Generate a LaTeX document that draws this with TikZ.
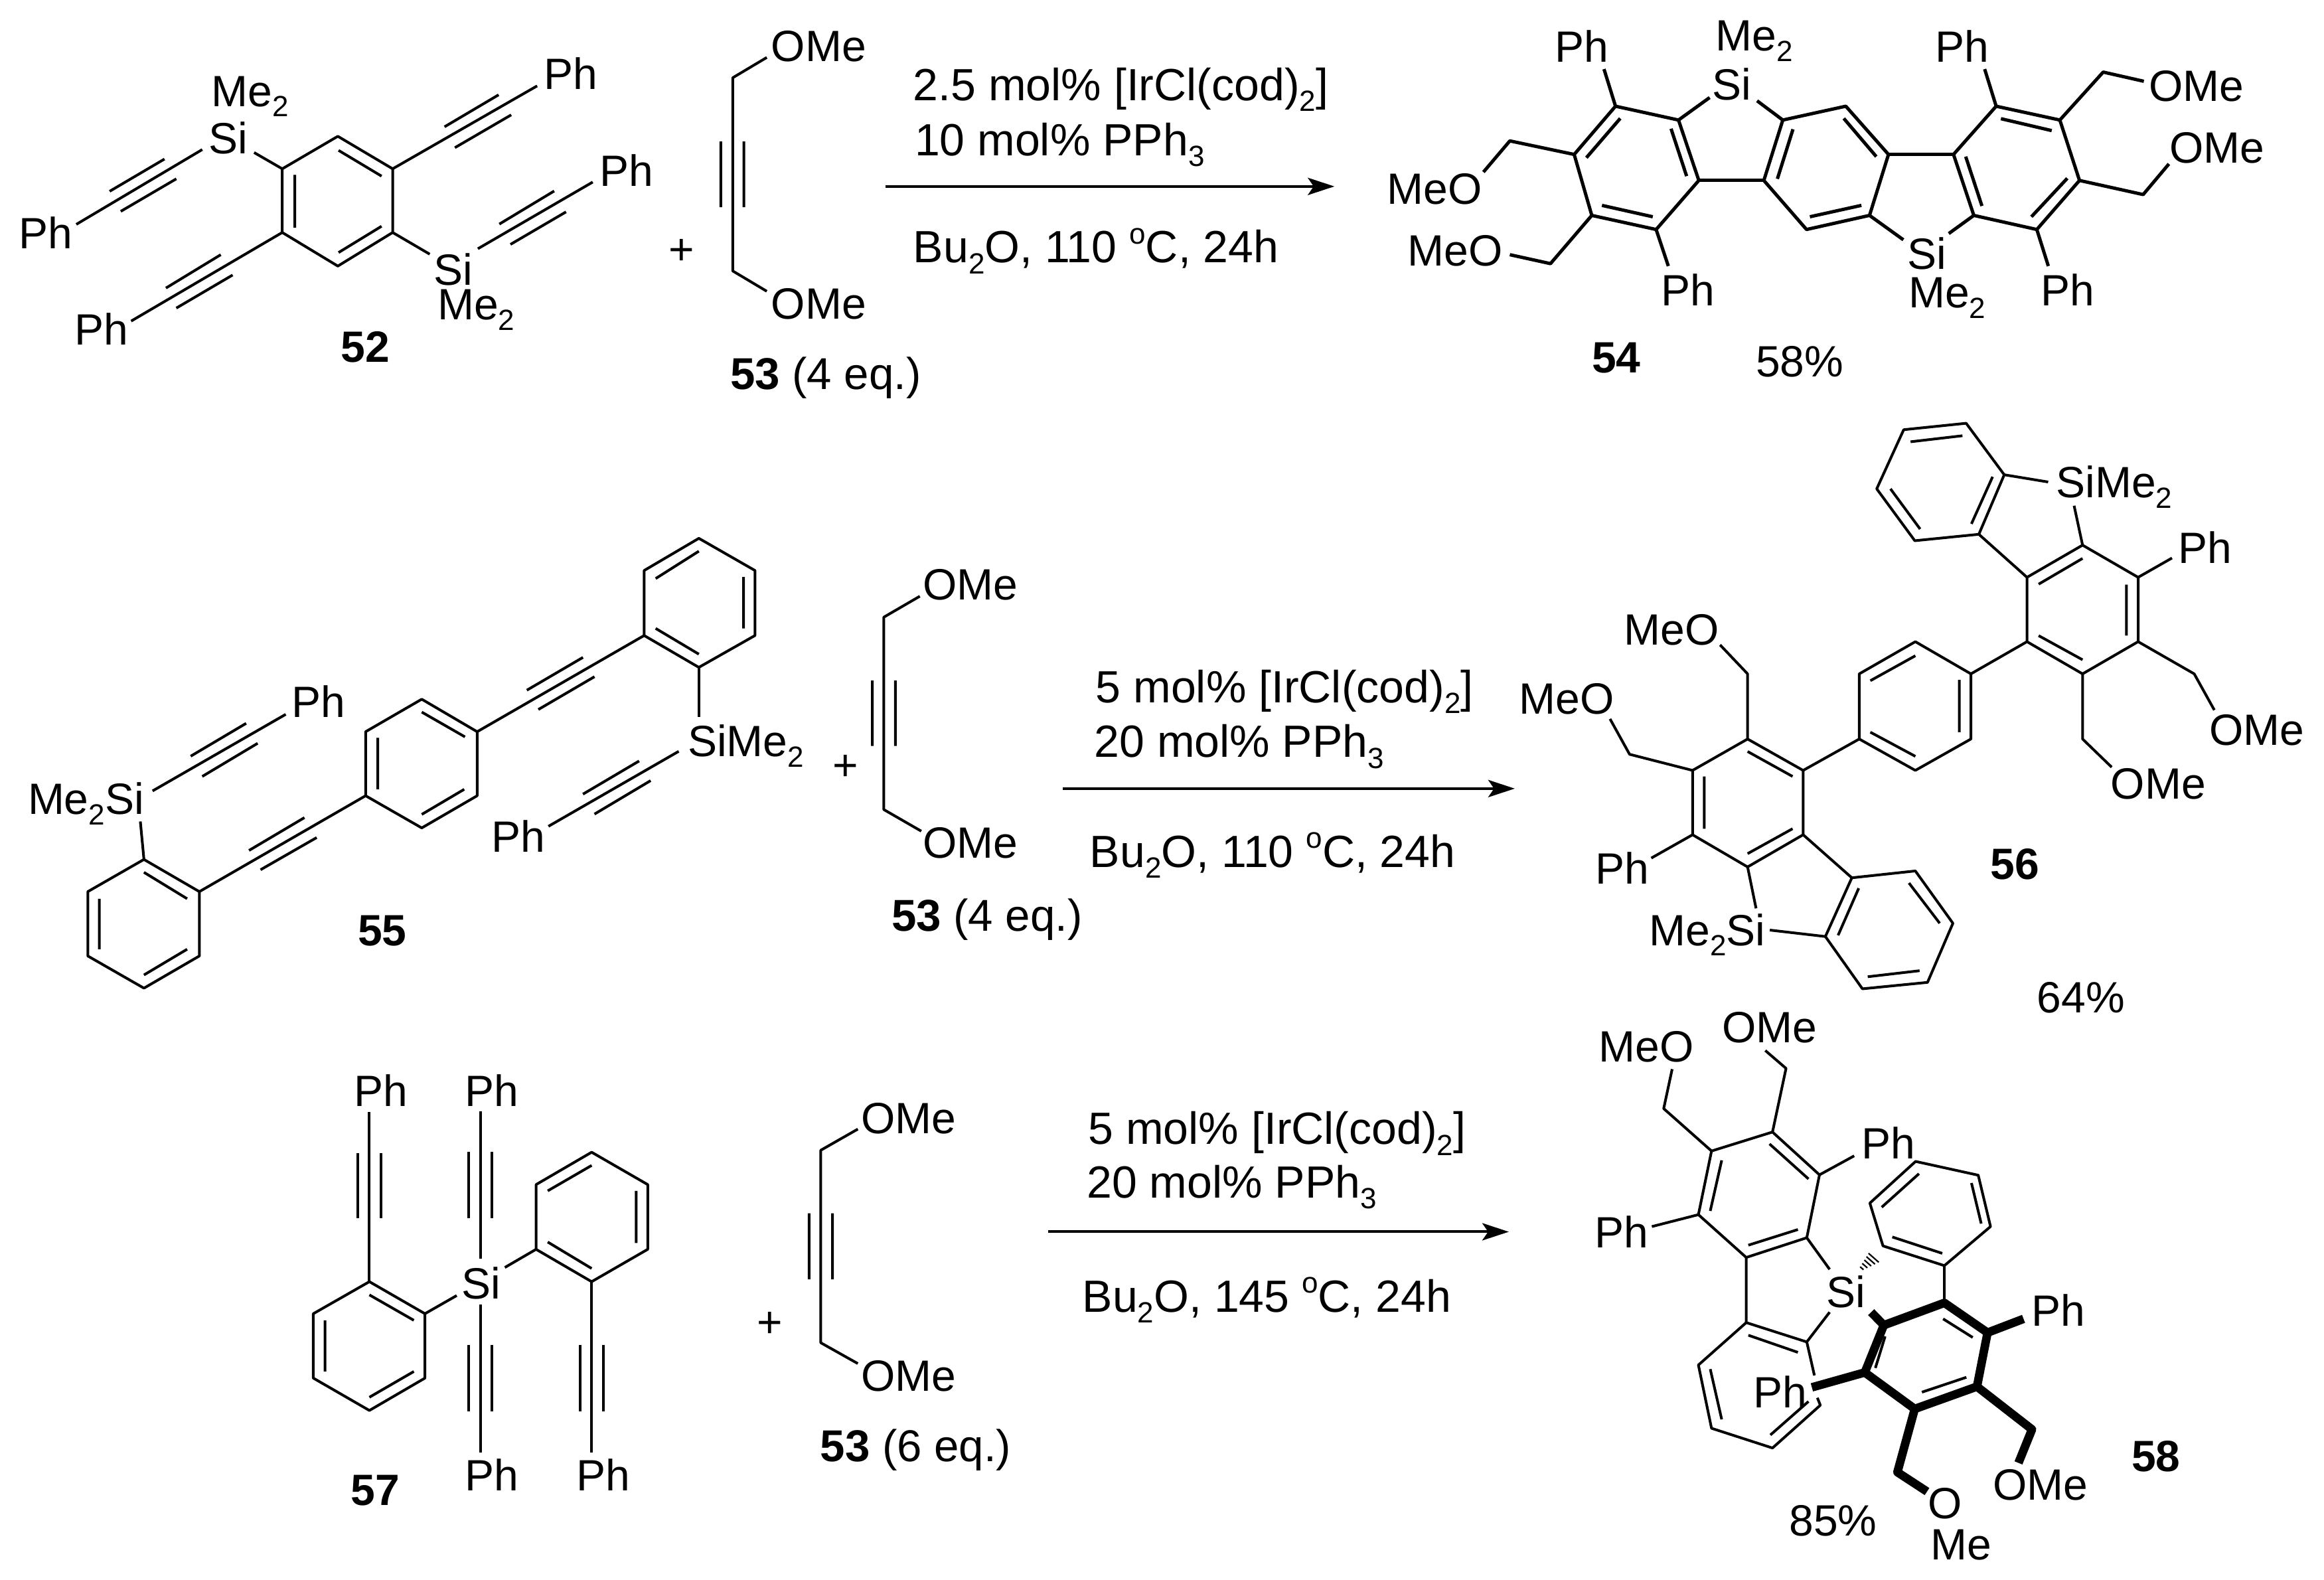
\documentclass[tikz,border=0pt]{standalone}
\usepackage{fontspec}
\usetikzlibrary{arrows.meta}
\setmainfont{Liberation Sans}
\newcommand{\chemsub}[1]{\smash{\raisebox{-.24em}{\fontsize{11pt}{12pt}\selectfont #1}}}
\newcommand{\chemsup}[1]{\raisebox{.42em}{\fontsize{11pt}{12pt}\selectfont #1}}
\tikzset{
 zA/.style={x=.27902pt,y=-.10204pt},
 zB/.style={shift={(475pt,0pt)},x=.25510pt,y=-.10204pt},
 zC/.style={shift={(0pt,-190pt)},x=.27105pt,y=-.12117pt},
 zD/.style={shift={(562.5pt,-150pt)},x=.19930pt,y=-.15147pt},
 zE/.style={shift={(87.5pt,-390pt)},x=.19930pt,y=-.12436pt},
 zF/.style={shift={(587.5pt,-375pt)},x=.15944pt,y=-.14015pt},
 zG/.style={x=.5582pt,y=-.5582pt},
 bond/.style={draw=black,line width=1pt,line join=round},
 bondb/.style={draw=black,line width=1.25pt,line join=round},
 boldbond/.style={draw=black,line width=3.2pt,line join=round},
 hash/.style={draw=black,line width=.55pt},
 rxn/.style={draw=black,line width=1pt,-{Stealth[length=10pt,width=6.5pt,inset=2.2pt]}},
 lab/.style={inner sep=0pt,font=\fontsize{16.5pt}{19pt}\selectfont},
 eqlab/.style={inner sep=0pt,anchor=base west,font=\fontsize{16.8pt}{19pt}\selectfont},
 bnum/.style={lab,font=\fontsize{16.5pt}{19pt}\selectfont\bfseries},
 reag/.style={inner sep=0pt,anchor=base west,font=\fontsize{17pt}{20pt}\selectfont},
}
\begin{document}
\begin{tikzpicture}
\useasboundingbox (0pt,0pt) rectangle (875.25pt,-594.75pt);
\fill[white] (0pt,0pt) rectangle (875.25pt,-594.75pt);

% ---------- row 1, left
\begin{scope}[zA]
\draw[bond] (456,503)--(530,623)--(530,858)--(456,982)--(381,858)--(381,623)--cycle;
\draw[bond] (457,555)--(515,650) (398,645)--(398,840) (515,835)--(457,932);
\draw[bond] (381,623)--(343,563) (530,858)--(580,938);
\draw[bond] (273,552)--(103,828) (222,587)--(148,706) (238,660)--(163,780);
\draw[bond] (530,623)--(725,317) (673,350)--(600,468) (690,424)--(614,545);
\draw[bond] (645,918)--(800,672) (748,705)--(674,827) (764,782)--(689,902);
\draw[bond] (381,858)--(177,1185) (298,940)--(224,1063) (314,1015)--(238,1137);
\node[lab] (si52a) at (308,510) {Si};
\node[lab] (si52b) at (612,995) {Si};
\node[lab,anchor=base west] (me52a) at (285,392) {Me\chemsub{2}};
\node[lab,anchor=base west] (me52b) at (590,1180) {Me\chemsub{2}};
\node[lab] (ph52a) at (62,860) {Ph};
\node[lab] (ph52b) at (770,270) {Ph};
\node[lab] (ph52c) at (846,628) {Ph};
\node[lab] (ph52d) at (137,1215) {Ph};
\node[bnum] (n52) at (493,1280) {52};
\node[lab] (plus1) at (920,930) {+};
\draw[bond] (1035,212)--(989,287)--(989,1000)--(1035,1075) (973,522)--(973,765) (1004,522)--(1004,765);
\node[lab] (ome53a) at (1105,172) {OMe};
\node[lab] (ome53b) at (1105,1122) {OMe};
\node[eqlab] (n53a) at (985,1438) {\textbf{53} (4 eq.)};
\node[reag] (r1a) at (1232,370) {2.5 mol\% [IrCl(cod)\chemsub{2}]};
\node[reag] (r1b) at (1234,574) {10 mol\% PPh\chemsub{3}};
\node[reag] (r1c) at (1232,970) {Bu\chemsub{2}O, 110 \chemsup{o}C, 24h};
\coordinate (arr1s) at (1195,688);
\end{scope}

% ---------- row 1, right
\begin{scope}[zB]
\coordinate (arr1e) at (108,688);
\draw[bondb] (523,392)--(616,443)--(646,666)--(583,847)--(488,795)--(462,570)--cycle;
\draw[bondb] (530,437)--(480,582) (605,475)--(628,650) (503,758)--(578,800);
\draw[bondb] (770,443)--(863,392)--(926,570)--(898,795)--(805,847)--(742,666)--cycle;
\draw[bondb] (785,477)--(762,660) (860,437)--(908,578) (886,758)--(810,800);
\draw[bondb] (1085,392)--(1179,443)--(1208,666)--(1145,847)--(1052,795)--(1022,570)--cycle;
\draw[bondb] (1092,438)--(1167,482) (1190,658)--(1137,800) (1064,760)--(1040,578);
\draw[bondb] (646,666)--(742,666) (926,570)--(1022,570);
\draw[bondb] (616,443)--(662,360) (770,443)--(732,372) (898,795)--(948,885) (1052,795)--(1015,862);
\draw[bondb] (523,392)--(506,255) (1085,392)--(1068,255) (583,847)--(601,982) (1145,847)--(1162,982);
\draw[bondb] (462,570)--(367,520)--(328,635) (488,795)--(427,973)--(367,940);
\draw[bondb] (1179,443)--(1243,266)--(1303,300) (1208,666)--(1302,718)--(1340,605);
\node[lab] (si54a) at (695,310) {Si};
\node[lab] (si54b) at (983,935) {Si};
\node[lab,anchor=base west] (me54a) at (670,188) {Me\chemsub{2}};
\node[lab,anchor=base west] (me54b) at (955,1135) {Me\chemsub{2}};
\node[lab] (ph54a) at (473,170) {Ph};
\node[lab] (ph54b) at (1035,170) {Ph};
\node[lab] (ph54c) at (630,1070) {Ph};
\node[lab] (ph54d) at (1191,1070) {Ph};
\node[lab,anchor=east] (meo54a) at (327,697) {MeO};
\node[lab,anchor=east] (meo54b) at (357,925) {MeO};
\node[lab,anchor=west] (ome54a) at (1310,318) {OMe};
\node[lab,anchor=west] (ome54b) at (1340,545) {OMe};
\node[bnum] (n54) at (524,1320) {54};
\node[lab] (y54) at (795,1335) {58\%};
\end{scope}
\draw[rxn] (arr1s)--(arr1e);

% ---------- row 2, left
\begin{scope}[zC]
\draw[bond] (971,105)--(1049,205)--(1049,407)--(971,506)--(895,407)--(895,205)--cycle;
\draw[bond] (971,145)--(911,230) (1033,225)--(1033,385) (911,385)--(971,465);
\draw[bond] (971,506)--(971,660);
\draw[bond] (895,407)--(663,706) (810,475)--(732,577) (826,535)--(748,637);
\draw[bond] (586,605)--(663,706)--(663,905)--(586,1005)--(508,905)--(508,706)--cycle;
\draw[bond] (586,645)--(646,722) (645,885)--(586,963) (525,725)--(525,885);
\draw[bond] (508,905)--(277,1203) (423,973)--(346,1075) (440,1035)--(362,1135);
\draw[bond] (200,1103)--(277,1203)--(277,1403)--(200,1503)--(122,1403)--(122,1203)--cycle;
\draw[bond] (200,1143)--(260,1225) (260,1382)--(200,1462) (138,1225)--(138,1382);
\draw[bond] (200,1103)--(195,985);
\draw[bond] (212,890)--(397,652) (342,680)--(265,782) (358,742)--(281,845);
\draw[bond] (943,767)--(762,1000) (888,797)--(810,900) (904,858)--(826,962);
\node[lab,anchor=base west] (si55a) at (955,783) {SiMe\chemsub{2}};
\node[lab,anchor=base west] (si55b) at (38,963) {Me\chemsub{2}Si};
\node[lab] (ph55a) at (443,612) {Ph};
\node[lab] (ph55b) at (720,1030) {Ph};
\node[bnum] (n55) at (531,1325) {55};
\node[lab] (plus2) at (1175,818) {+};
\draw[bond] (1278,285)--(1228,350)--(1228,948)--(1280,1015) (1212,547)--(1212,750) (1244,547)--(1244,750);
\node[lab] (ome53c) at (1348,250) {OMe};
\node[lab] (ome53d) at (1348,1052) {OMe};
\node[eqlab] (n53b) at (1238,1325) {\textbf{53} (4 eq.)};
\end{scope}

% ---------- row 2, right
\begin{scope}[zD]
\draw[bond] (775,78)--(893,62)--(965,190)--(917,338)--(796,354)--(724,225)--cycle;
\draw[bond] (788,108)--(886,93) (943,195)--(903,312) (806,325)--(750,225);
\draw[bond] (965,190)--(1048,208) (1097,267)--(1113,365) (917,338)--(1008,445);
\draw[bond] (1113,365)--(1218,445)--(1218,605)--(1113,685)--(1008,605)--(1008,445)--cycle;
\draw[bond] (1030,462)--(1113,398) (1196,463)--(1196,590) (1113,650)--(1030,590);
\draw[bond] (1218,445)--(1282,397);
\draw[bond] (1218,605)--(1324,685)--(1362,775) (1113,685)--(1113,847)--(1168,917);
\draw[bond] (797,605)--(902,685)--(902,847)--(797,925)--(691,847)--(691,685)--cycle;
\draw[bond] (797,640)--(712,702) (880,700)--(880,830) (797,890)--(712,830);
\draw[bond] (1008,605)--(902,685) (691,847)--(585,925);
\draw[bond] (480,847)--(585,925)--(585,1085)--(480,1165)--(376,1085)--(376,925)--cycle;
\draw[bond] (480,878)--(565,940) (565,1070)--(480,1132) (398,940)--(398,1070);
\draw[bond] (480,847)--(480,685)--(428,613) (376,925)--(257,885)--(220,797);
\draw[bond] (376,1085)--(298,1143) (480,1165)--(496,1268) (522,1322)--(627,1338) (585,1085)--(677,1192);
\draw[bond] (677,1192)--(797,1175)--(868,1305)--(820,1452)--(697,1468)--(627,1338)--cycle;
\draw[bond] (690,1218)--(651,1335) (785,1205)--(843,1305) (805,1423)--(707,1438);
\node[lab,anchor=base west] (si56a) at (1062,247) {SiMe\chemsub{2}};
\node[lab,anchor=base west] (si56b) at (293,1360) {Me\chemsub{2}Si};
\node[lab] (ph56a) at (1345,370) {Ph};
\node[lab] (ph56b) at (243,1168) {Ph};
\node[lab] (ome56a) at (1442,825) {OMe};
\node[lab] (ome56b) at (1256,958) {OMe};
\node[lab] (meo56a) at (336,575) {MeO};
\node[lab] (meo56b) at (138,748) {MeO};
\node[bnum] (n56) at (985,1158) {56};
\node[lab] (y56) at (1110,1490) {64\%};
\end{scope}

% ---------- row 3, left
\begin{scope}[zE]
\draw[bond] (259,745)--(364,842)--(364,1037)--(259,1135)--(153,1037)--(153,842)--cycle;
\draw[bond] (259,785)--(343,862) (343,1017)--(259,1095) (175,862)--(175,1017);
\draw[bond] (364,842)--(424,787);
\draw[bond] (259,745)--(259,232) (237,355)--(237,552) (281,355)--(281,552);
\draw[bond] (469,675)--(469,230) (447,352)--(447,552) (491,352)--(491,552);
\draw[bond] (469,815)--(469,1262) (447,937)--(447,1137) (491,937)--(491,1137);
\draw[bond] (679,353)--(785,451)--(785,647)--(679,745)--(574,647)--(574,451)--cycle;
\draw[bond] (679,393)--(596,470) (763,470)--(763,628) (679,705)--(596,625);
\draw[bond] (574,647)--(515,702);
\draw[bond] (679,745)--(679,1262) (657,937)--(657,1137) (701,937)--(701,1137);
\node[lab] (si57) at (470,750) {Si};
\node[lab] (ph57a) at (281,165) {Ph};
\node[lab] (ph57b) at (490,165) {Ph};
\node[lab] (ph57c) at (490,1330) {Ph};
\node[lab] (ph57d) at (701,1330) {Ph};
\node[bnum] (n57) at (270,1378) {57};
\node[lab] (plus3) at (1016,875) {+};
\draw[bond] (1182,283)--(1112,347)--(1112,930)--(1182,993) (1090,538)--(1090,738) (1134,538)--(1134,738);
\node[lab] (ome53e) at (1278,250) {OMe};
\node[lab] (ome53f) at (1278,1030) {OMe};
\node[eqlab] (n53c) at (1110,1290) {\textbf{53} (6 eq.)};
\end{scope}

% ---------- row 3, right
\begin{scope}[zF]
\draw[bond] (502,366)--(613,481)--(583,650)--(440,703)--(327,588)--(358,417)--cycle;
\draw[bond] (495,398)--(587,492) (562,628)--(445,670) (355,578)--(382,442);
\draw[bond] (358,417)--(245,303)--(265,197) (502,366)--(534,195)--(485,147);
\draw[bond] (613,481)--(695,430) (327,588)--(217,620) (583,650)--(637,735);
\draw[bond] (440,703)--(440,878) (583,930)--(637,850);
\draw[bond] (583,930)--(440,878)--(327,992)--(358,1162)--(502,1215)--(615,1100)--(608,1080) (583,930)--(601,1020);
\draw[bond] (445,912)--(562,958) (587,1090)--(497,1180) (382,1138)--(355,1003);
\draw[bond] (908,725)--(763,672)--(732,557)--(840,445)--(988,482)--(1017,620)--cycle;
\draw[bond] (903,692)--(785,648) (760,568)--(848,478) (972,503)--(995,612);
\draw[bond] (908,725)--(908,825);
\draw[hash] (709,728)--(717,736) (714,719)--(726,731) (719,710)--(735,726) (724,701)--(744,721) (729,692)--(753,716);
\draw[bond] (905,868)--(975,918) (960,1025)--(855,1065) (768,915)--(745,1000);
\draw[boldbond] (908,825)--(1010,905)--(985,1050)--(838,1110)--(720,1012)--(765,885)--cycle;
\draw[boldbond] (735,850)--(765,885) (1010,905)--(1095,868) (720,1012)--(595,1052);
\draw[boldbond] (985,1050)--(1115,1165)--(1083,1255) (838,1110)--(797,1280)--(867,1332);
\node[lab] (si58) at (675,795) {Si};
\node[lab] (meo58) at (204,137) {MeO};
\node[lab] (ome58a) at (495,85) {OMe};
\node[lab] (ph58a) at (776,395) {Ph};
\node[lab] (ph58b) at (146,635) {Ph};
\node[lab] (ph58c) at (1177,845) {Ph};
\node[lab] (ph58d) at (521,1065) {Ph};
\node[lab] (ome58b) at (1135,1315) {OMe};
\node[lab] (o58) at (910,1365) {O};
\node[lab] (me58) at (947,1475) {Me};
\node[bnum] (n58) at (1408,1238) {58};
\node[lab] (y58) at (645,1410) {85\%};
\end{scope}

% ---------- reagents rows 2 and 3
\begin{scope}[zG]
\node[reag] (r2a) at (739,474) {5 mol\% [IrCl(cod)\chemsub{2}]};
\node[reag] (r2b) at (738,511) {20 mol\% PPh\chemsub{3}};
\node[reag] (r2c) at (735,585) {Bu\chemsub{2}O, 110 \chemsup{o}C, 24h};
\coordinate (arr2s) at (717,532);
\coordinate (arr2e) at (1022,532);
\node[reag] (r3a) at (734,772) {5 mol\% [IrCl(cod)\chemsub{2}]};
\node[reag] (r3b) at (733,808) {20 mol\% PPh\chemsub{3}};
\node[reag] (r3c) at (730,885) {Bu\chemsub{2}O, 145 \chemsup{o}C, 24h};
\coordinate (arr3s) at (707,831);
\coordinate (arr3e) at (1018,831);
\end{scope}
\draw[rxn] (arr2s)--(arr2e);
\draw[rxn] (arr3s)--(arr3e);
\end{tikzpicture}
\end{document}
